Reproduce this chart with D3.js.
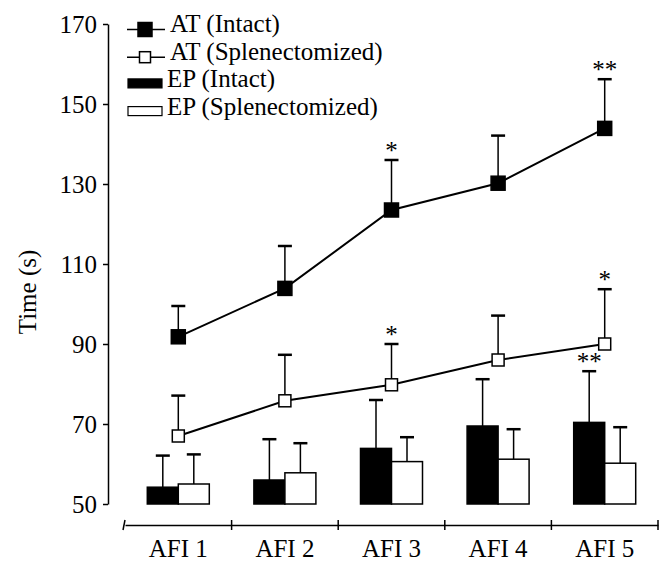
<!DOCTYPE html>
<html>
<head>
<meta charset="utf-8">
<script src="https://cdn.jsdelivr.net/npm/d3@7"></script>
<style>
  html, body { margin: 0; padding: 0; background: #fff; }
  svg text { font-family: "Liberation Serif", "Times New Roman", serif; fill: #000; }
</style>
</head>
<body>
<div id="chart-container"></div>
<script>
// AFI sessions
var categories = ['AFI 1', 'AFI 2', 'AFI 3', 'AFI 4', 'AFI 5'];

// AT lines: mean and error (upper SE)
var atIntact = [91.8, 103.9, 123.5, 130.2, 143.9];
var atIntactErr = [7.7, 10.6, 12.5, 11.9, 12.3];
var atSplen = [67.0, 75.8, 79.8, 86.0, 90.0];
var atSplenErr = [10.1, 11.5, 10.2, 11.1, 13.7];

// EP bars
var epIntact = [54.2, 56.0, 63.9, 69.5, 70.4];
var epIntactErr = [7.9, 10.2, 12.1, 11.7, 12.8];
var epSplen = [55.0, 57.8, 60.6, 61.2, 60.2];
var epSplenErr = [7.4, 7.4, 6.1, 7.5, 9.0];

// significance marks
var atIntactSig = ['', '', '*', '', '**'];
var atSplenSig = ['', '', '*', '', '*'];
var epIntactSig = ['', '', '', '', '**'];
var epSplenSig = ['', '', '', '', ''];

var yTicks = [50, 70, 90, 110, 130, 150, 170];
var legendLabels = ['AT (Intact)', 'AT (Splenectomized)', 'EP (Intact)', 'EP (Splenectomized)'];
var yLabel = 'Time (s)';

function renderChart() {
    var width = 667, height = 561;
    var fontSize = 25;
    var barWidth = 31;
    var capWidth = 14;

    var svg = d3.select('#chart-container')
        .append('svg')
        .attr('width', width)
        .attr('height', height);

    var x = d3.scaleBand().domain(categories).range([125, 658]);
    var y = d3.scaleLinear().domain([50, 170]).range([504, 24]);
    var groupScale = d3.scaleBand().domain(['intact', 'splen']).range([-barWidth, barWidth]);

    function cx(d) { return x(d) + x.bandwidth() / 2; }

    // Y axis
    var yAxis = svg.append('g')
        .attr('transform', 'translate(108,0)')
        .call(d3.axisLeft(y).tickValues(yTicks).tickSize(5).tickSizeOuter(0).tickPadding(6));
    yAxis.selectAll('path, line').attr('stroke', '#000').attr('stroke-width', 1.5);
    yAxis.selectAll('text')
        .style('font-family', '"Liberation Serif", "Times New Roman", serif')
        .style('font-size', fontSize + 'px');

    svg.append('text')
        .attr('transform', 'translate(36,292) rotate(-90)')
        .attr('text-anchor', 'middle')
        .style('font-size', fontSize + 'px')
        .text(yLabel);

    // X axis (labels at centres, ticks at band edges)
    var xAxis = svg.append('g')
        .attr('transform', 'translate(0,525)')
        .call(d3.axisBottom(x).tickSize(0).tickSizeOuter(0).tickPadding(14));
    xAxis.select('.domain').attr('stroke', '#000').attr('stroke-width', 1.5);
    xAxis.selectAll('text')
        .style('font-family', '"Liberation Serif", "Times New Roman", serif')
        .style('font-size', fontSize + 'px');
    var edges = categories.map(function(d) { return x(d); }).concat([x(categories[categories.length - 1]) + x.bandwidth()]);
    xAxis.selectAll('.edge')
        .data(edges)
        .enter()
        .append('line')
        .attr('class', 'edge')
        .attr('x1', function(d) { return d; })
        .attr('x2', function(d, i) { return i === 0 ? d - 2 : d; })
        .attr('y1', -5)
        .attr('y2', 5)
        .attr('stroke', '#000')
        .attr('stroke-width', 1.5);

    function errorBar(g, xPos, yFrom, yTo) {
        g.append('line')
            .attr('x1', xPos).attr('x2', xPos)
            .attr('y1', yFrom).attr('y2', yTo)
            .attr('stroke', '#000').attr('stroke-width', 1.5);
        g.append('line')
            .attr('x1', xPos - capWidth / 2).attr('x2', xPos + capWidth / 2)
            .attr('y1', yTo).attr('y2', yTo)
            .attr('stroke', '#000').attr('stroke-width', 2.5);
    }

    function sigMark(g, xPos, yTo, mark) {
        if (!mark) return;
        g.append('text')
            .attr('x', xPos)
            .attr('y', yTo - 1)
            .attr('text-anchor', 'middle')
            .style('font-size', fontSize + 'px')
            .text(mark);
    }

    // EP bars
    var bars = [
        { key: 'intact', values: epIntact, err: epIntactErr, sig: epIntactSig, fill: '#000' },
        { key: 'splen', values: epSplen, err: epSplenErr, sig: epSplenSig, fill: '#fff' }
    ];
    var barLayer = svg.append('g');
    bars.forEach(function(s) {
        categories.forEach(function(c, i) {
            var bx = cx(c) + groupScale(s.key);
            barLayer.append('rect')
                .attr('x', bx)
                .attr('y', y(s.values[i]))
                .attr('width', barWidth)
                .attr('height', y(50) - y(s.values[i]))
                .attr('fill', s.fill)
                .attr('stroke', '#000')
                .attr('stroke-width', 1.5);
            var top = y(s.values[i] + s.err[i]);
            errorBar(barLayer, bx + barWidth / 2, y(s.values[i]), top);
            sigMark(barLayer, bx + barWidth / 2, top, s.sig[i]);
        });
    });

    // AT lines
    var lines = [
        { values: atSplen, err: atSplenErr, sig: atSplenSig, fill: '#fff', size: 12 },
        { values: atIntact, err: atIntactErr, sig: atIntactSig, fill: '#000', size: 14 }
    ];
    var line = d3.line()
        .x(function(d) { return cx(d.cat); })
        .y(function(d) { return y(d.v); });
    lines.forEach(function(s) {
        var g = svg.append('g');
        var pts = categories.map(function(c, i) { return { cat: c, v: s.values[i] }; });
        categories.forEach(function(c, i) {
            var top = y(s.values[i] + s.err[i]);
            errorBar(g, cx(c), y(s.values[i]), top);
            sigMark(g, cx(c), top, s.sig[i]);
        });
        g.append('path')
            .datum(pts)
            .attr('d', line)
            .attr('fill', 'none')
            .attr('stroke', '#000')
            .attr('stroke-width', 2);
        g.selectAll('.marker')
            .data(pts)
            .enter()
            .append('rect')
            .attr('class', 'marker')
            .attr('x', function(d) { return cx(d.cat) - s.size / 2; })
            .attr('y', function(d) { return y(d.v) - s.size / 2; })
            .attr('width', s.size)
            .attr('height', s.size)
            .attr('fill', s.fill)
            .attr('stroke', '#000')
            .attr('stroke-width', 1.5);
    });

    // Legend
    var legend = svg.append('g');
    var legendItems = [
        { type: 'line', fill: '#000', size: 14 },
        { type: 'line', fill: '#fff', size: 11 },
        { type: 'bar', fill: '#000' },
        { type: 'bar', fill: '#fff' }
    ];
    legendItems.forEach(function(item, i) {
        var base = 32 + i * 27.7;
        var row = legend.append('g');
        if (item.type === 'line') {
            var my = base - 2.5;
            row.append('line')
                .attr('x1', 127).attr('x2', 165)
                .attr('y1', my).attr('y2', my)
                .attr('stroke', '#000').attr('stroke-width', 1.5);
            row.append('rect')
                .attr('x', 145 - item.size / 2).attr('y', my - item.size / 2)
                .attr('width', item.size).attr('height', item.size)
                .attr('fill', item.fill).attr('stroke', '#000').attr('stroke-width', 1.5);
        } else {
            row.append('rect')
                .attr('x', 128).attr('y', base - 8.5)
                .attr('width', 34).attr('height', 9)
                .attr('fill', item.fill).attr('stroke', '#000').attr('stroke-width', 1.2);
        }
        row.append('text')
            .attr('x', item.type === 'line' ? 170 : 167)
            .attr('y', base)
            .style('font-size', fontSize + 'px')
            .text(legendLabels[i]);
    });
}

renderChart();
</script>
</body>
</html>
